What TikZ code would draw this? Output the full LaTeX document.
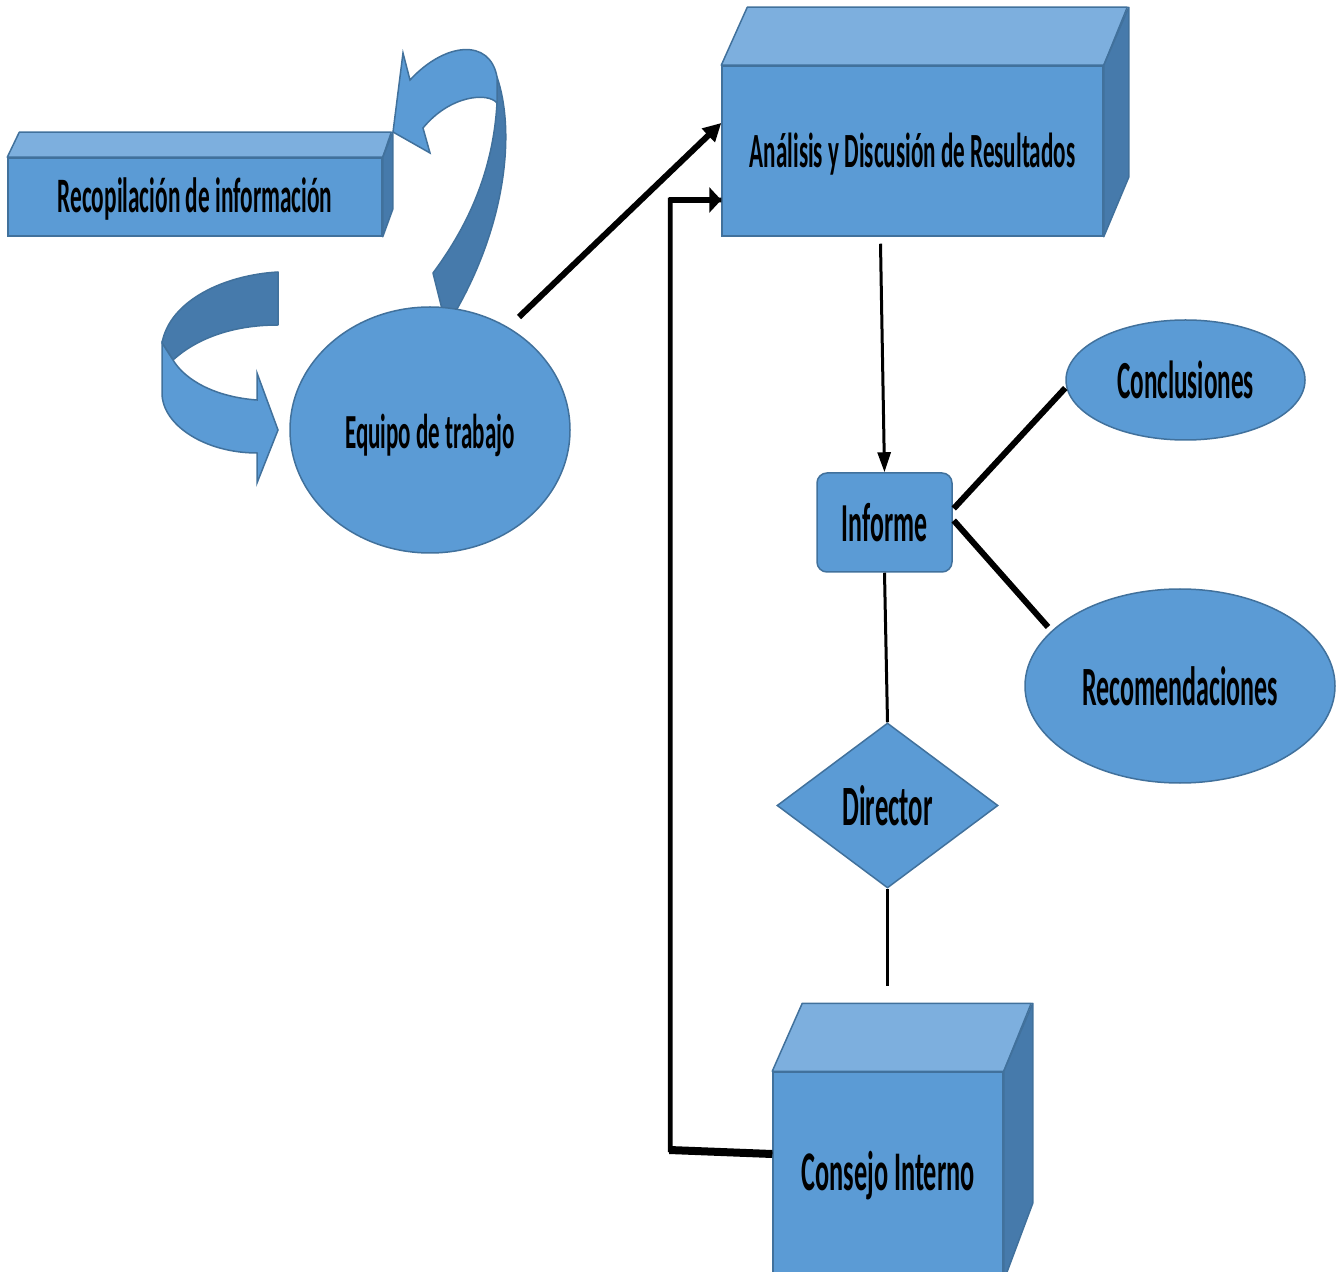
\documentclass[tikz,border=0pt]{standalone}
\usepackage{fontspec}
\setmainfont{Carlito}[FakeStretch=0.47]
\usetikzlibrary{shapes.geometric,arrows.meta,calc}
\definecolor{mainblue}{HTML}{5B9BD5}
\definecolor{topblue}{HTML}{7DAFDE}
\definecolor{sideblue}{HTML}{467AAB}
\definecolor{edgeblue}{HTML}{41719C}
\begin{document}
\begin{tikzpicture}[x=0.5pt,y=-0.5pt,
  face/.style={fill=mainblue,draw=edgeblue,line width=0.75pt,inner sep=0pt,text=black},
  topface/.style={fill=topblue,draw=edgeblue,line width=0.75pt,line join=round},
  sideface/.style={fill=sideblue,draw=edgeblue,line width=0.75pt,line join=round},
  fs/.style={font=\bfseries\fontsize{#1}{#1}\selectfont},
  conn/.style={draw=black,line width=#1},
]
\path[use as bounding box] (0,0) rectangle (1344,1272);
\clip (0,0) rectangle (1344,1272);

% curved block arrows
\path[sideface] (442,309) -- (433,273) .. controls (465,230) and (493,175) .. (497,103) -- (497,77) .. controls (515,130) and (507,220) .. (457,309) -- cycle;
\path[face] (497,103) .. controls (488,92) and (450,95) .. (423,128) -- (430,153) -- (393,132) -- (403,53) -- (410,80) .. controls (445,42) and (490,38) .. (497,77) -- cycle;

\path[sideface] (278,272) .. controls (225,275) and (170,300) .. (162,343) -- (173,360) .. controls (195,340) and (230,325) .. (278,325) -- cycle;
\path[face] (162,343) -- (162,393) .. controls (162,425) and (205,453) .. (257,453) -- (257,483) -- (278,430) -- (257,373) -- (257,400) .. controls (215,397) and (185,380) .. (173,360) -- cycle;

% Recopilacion
\node[face, rectangle, minimum width=187pt, minimum height=39pt,
  label={[fs=24.8,yshift=-1pt,name=rect]center:Recopilación de información}] (rec) at (195,197) {};
\path[topface] (rec.north west) -- ++(12,-25) -- ++(372,0) -- (rec.north east) -- cycle;
\path[sideface] (rec.north east) -- ++(10,-25) -- ++(0,77) -- (rec.south east) -- cycle;

% Analisis
\node[face, rectangle, minimum width=190.5pt, minimum height=85pt,
  label={[fs=24.6,yshift=-1.5pt,name=anat]center:Análisis y Discusión de Resultados}] (ana) at (912.5,151) {};
\path[topface] (ana.north west) -- ++(26,-58) -- ++(380,0) -- (ana.north east) -- cycle;
\path[sideface] (ana.north east) -- ++(25,-58) -- ++(0,170) -- (ana.south east) -- cycle;

% Equipo
\node[face, ellipse, minimum width=140pt, minimum height=123pt,
  label={[fs=24.5,yshift=-2.5pt,name=eqt]center:Equipo de trabajo}] (eq) at (430,430) {};

% Informe
\node[face, rectangle, rounded corners=5pt, minimum width=67.5pt, minimum height=49.5pt, fs=27.5] (inf) at (884.5,522.5) {Informe};

% Conclusiones / Recomendaciones
\node[face, ellipse, minimum width=119.5pt, minimum height=60pt, fs=26.8] (conc) at (1185.5,380) {Conclusiones};
\node[face, ellipse, minimum width=155pt, minimum height=97pt, fs=27.7] (reco) at (1180,686) {Recomendaciones};

% Director
\node[face, diamond, minimum width=110.5pt, minimum height=82.5pt, aspect=1.34, fs=28.5] (dir) at (887.5,805.5) {Director};

% Consejo
\node[face, rectangle, minimum width=115pt, minimum height=104pt, fs=28] (cons) at (888,1176) {Consejo Interno};
\path[topface] (cons.north west) -- ++(30,-68) -- ++(229,0) -- (cons.north east) -- cycle;
\path[sideface] (cons.north east) -- ++(29,-68) -- ++(0,200) -- (cons.south east) -- cycle;

% connectors
\draw[conn=3pt, -{Triangle[length=9pt,width=9pt]}] ($(eq.center)+(89,-113)$) -- ($(ana.west)+(0,-28)$);
\coordinate (fbA) at ($(cons.west)+(-102,-26)$);
\coordinate (fbB) at ($(ana.west)+(-51,49)$);
\draw[conn=2.3pt, line join=miter] ($(cons.west)+(0,-22)$) -- (fbA) -- (fbB) -- ($(ana.west)+(0,49)$);
\draw[conn=4pt] ($(cons.west)+(0,-22)$) -- ($(fbA)+(-1,0)$);
\draw[conn=3.2pt, -{Triangle[length=6pt,width=12.5pt]}] ($(fbB)+(-1,0)$) -- ($(ana.west)+(0,49)$);
\draw[conn=1.5pt, -{Triangle[length=10pt,width=6.5pt]}] ($(ana.south)+(-32,7)$) -- (inf.north);
\draw[conn=3pt] ($(inf.east)+(1,-14)$) -- ($(conc.west)+(0,8)$);
\draw[conn=3pt] ($(inf.east)+(1,-2)$) -- ($(reco.center)+(-132,-59)$);
\draw[conn=1.5pt] (inf.south) -- (dir.north);
\coordinate (dend) at ($(dir.south)+(0,97)$);
\draw[conn=1.5pt] (dir.south) -- (dend);
\end{tikzpicture}
\end{document}
